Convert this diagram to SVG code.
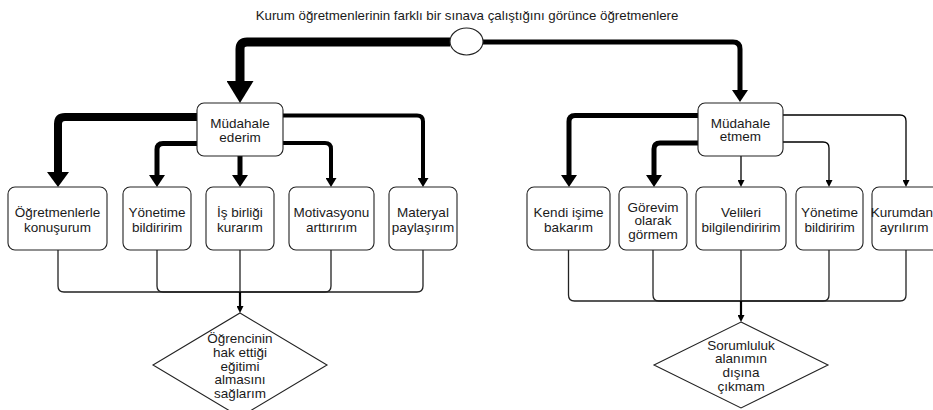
<svg xmlns="http://www.w3.org/2000/svg" width="933" height="410" viewBox="0 0 933 410">
<style>
  text { font-family: "Liberation Sans", Arial, sans-serif; font-size: 13.5px; fill: #1a1a1a; text-anchor: middle; }
  .title { font-size: 13.3px; }
  .box { fill: #ffffff; stroke: #222; stroke-width: 1.1; }
  .c { fill: none; stroke: #000; stroke-linejoin: round; }
  .m { fill: none; stroke: #222; stroke-width: 1.3; }
</style>
<defs>
  <marker id="aBig" markerUnits="userSpaceOnUse" markerWidth="22" markerHeight="27" viewBox="0 0 22 27" refX="0" refY="13.5" orient="auto"><path d="M0,0 L22,13.5 L0,27 z" fill="#000"/></marker>
  <marker id="aMed" markerUnits="userSpaceOnUse" markerWidth="15" markerHeight="22" viewBox="0 0 15 22" refX="0" refY="11" orient="auto"><path d="M0,0 L15,11 L0,22 z" fill="#000"/></marker>
  <marker id="aS" markerUnits="userSpaceOnUse" markerWidth="12" markerHeight="16" viewBox="0 0 12 16" refX="0" refY="8" orient="auto"><path d="M0,0 L12,8 L0,16 z" fill="#000"/></marker>
  <marker id="aXs" markerUnits="userSpaceOnUse" markerWidth="9" markerHeight="11" viewBox="0 0 9 11" refX="0" refY="5.5" orient="auto"><path d="M0,0 L9,5.5 L0,11 z" fill="#000"/></marker>
  <marker id="aT" markerUnits="userSpaceOnUse" markerWidth="7" markerHeight="7" viewBox="0 0 7 7" refX="0" refY="3.5" orient="auto"><path d="M0,0 L7,3.5 L0,7 z" fill="#000"/></marker>
</defs>

<text class="title" x="467" y="20">Kurum öğretmenlerinin farklı bir sınava çalıştığını görünce öğretmenlere</text>

<g id="connectors">
  <!-- from start -->
  <path class="c" stroke-width="9" d="M450,42 H247 Q240,42 240,49 V81" marker-end="url(#aBig)"/>
  <path class="c" stroke-width="5" d="M483,42 H733 Q740,42 740,49 V90" marker-end="url(#aS)"/>
  <!-- left branch -->
  <path class="c" stroke-width="8" d="M197,117 H65 Q58,117 58,124 V172" marker-end="url(#aMed)"/>
  <path class="c" stroke-width="5" d="M197,143.5 H163 Q157,143.5 157,149.5 V175" marker-end="url(#aS)"/>
  <path class="c" stroke-width="5" d="M240,156 V175" marker-end="url(#aS)"/>
  <path class="c" stroke-width="4" d="M283,143 H325 Q331,143 331,149 V178" marker-end="url(#aXs)"/>
  <path class="c" stroke-width="4" d="M283,115.5 H417 Q423,115.5 423,121.5 V178" marker-end="url(#aXs)"/>
  <!-- right branch -->
  <path class="c" stroke-width="5" d="M698,115.5 H575 Q569,115.5 569,121.5 V175" marker-end="url(#aS)"/>
  <path class="c" stroke-width="5" d="M698,143 H660 Q654,143 654,149 V175" marker-end="url(#aS)"/>
  <path class="c" stroke-width="1.3" d="M741,156 V180" marker-end="url(#aT)"/>
  <path class="c" stroke-width="1.3" d="M783,142 H823 Q829,142 829,148 V180" marker-end="url(#aT)"/>
  <path class="c" stroke-width="1.3" d="M783,115 H900 Q906,115 906,121 V180" marker-end="url(#aT)"/>
  <!-- left merge -->
  <path class="m" d="M58,250 V286 Q58,292 64,292 H240"/>
  <path class="m" d="M157,250 V286 Q157,292 163,292 H240"/>
  <path class="m" d="M240,250 V292"/>
  <path class="m" d="M331,250 V286 Q331,292 325,292 H240"/>
  <path class="m" d="M423,250 V286 Q423,292 417,292 H240"/>
  <path class="c" stroke-width="2.2" d="M240,292 V306" marker-end="url(#aT)"/>
  <!-- right merge -->
  <path class="m" d="M568.5,250 V295 Q568.5,301 574.5,301 H741"/>
  <path class="m" d="M653,250 V295 Q653,301 659,301 H741"/>
  <path class="m" d="M741,250 V301"/>
  <path class="m" d="M829,250 V295 Q829,301 823,301 H741"/>
  <path class="m" d="M906,250 V295 Q906,301 900,301 H741"/>
  <path class="c" stroke-width="2.2" d="M741,301 V315" marker-end="url(#aT)"/>
</g>

<g id="start"><ellipse cx="466.5" cy="41.5" rx="16.5" ry="13.5" fill="#fff" stroke="#222" stroke-width="1.1"/></g>

<g id="mudahale-ederim">
  <rect class="box" x="197" y="103" width="86" height="53" rx="7"/>
  <text x="240" y="127.5">Müdahale</text><text x="240" y="141.5">ederim</text>
</g>
<g id="mudahale-etmem">
  <rect class="box" x="698" y="103" width="85" height="53" rx="7"/>
  <text x="740.5" y="127.5">Müdahale</text><text x="740.5" y="141">etmem</text>
</g>

<g id="ogretmenlerle">
  <rect class="box" x="8" y="187" width="99" height="63" rx="7"/>
  <text x="57.5" y="216.5">Öğretmenlerle</text><text x="57.5" y="231.5">konuşurum</text>
</g>
<g id="yonetime-l">
  <rect class="box" x="123" y="187" width="68" height="63" rx="7"/>
  <text x="157" y="216.5">Yönetime</text><text x="157" y="231.5">bildiririm</text>
</g>
<g id="isbirligi">
  <rect class="box" x="206" y="187" width="68" height="63" rx="7"/>
  <text x="240" y="216.5">İş birliği</text><text x="240" y="231.5">kurarım</text>
</g>
<g id="motivasyonu">
  <rect class="box" x="289" y="187" width="85" height="63" rx="7"/>
  <text x="331.5" y="216.5">Motivasyonu</text><text x="331.5" y="231.5">arttırırım</text>
</g>
<g id="materyal">
  <rect class="box" x="389" y="187" width="68" height="63" rx="7"/>
  <text x="423" y="216.5">Materyal</text><text x="423" y="231.5">paylaşırım</text>
</g>

<g id="kendi">
  <rect class="box" x="527" y="187" width="83" height="63" rx="7"/>
  <text x="568.5" y="216.5">Kendi işime</text><text x="568.5" y="231.5">bakarım</text>
</g>
<g id="gorevim">
  <rect class="box" x="619" y="187" width="68" height="63" rx="7"/>
  <text x="653" y="211.5">Görevim</text><text x="653" y="225">olarak</text><text x="653" y="238.5">görmem</text>
</g>
<g id="velileri">
  <rect class="box" x="696" y="187" width="90" height="63" rx="7"/>
  <text x="741" y="216.5">Velileri</text><text x="741" y="231.5">bilgilendiririm</text>
</g>
<g id="yonetime-r">
  <rect class="box" x="796" y="187" width="67" height="63" rx="7"/>
  <text x="829.5" y="216.5">Yönetime</text><text x="829.5" y="231.5">bildiririm</text>
</g>
<g id="kurumdan">
  <rect class="box" x="872" y="187" width="68" height="63" rx="7"/>
  <text x="902" y="216.5">Kurumdan</text><text x="904" y="231.5">ayrılırım</text>
</g>

<g id="sonuc-l">
  <polygon points="240,313 327,365 240,417 153,365" fill="#fff" stroke="#222" stroke-width="1.1"/>
  <text x="240" y="342.5">Öğrencinin</text><text x="240" y="356.5">hak ettiği</text><text x="240" y="370.5">eğitimi</text><text x="240" y="384">almasını</text><text x="240" y="397.5">sağlarım</text>
</g>
<g id="sonuc-r">
  <polygon points="741,322 828,365 741,408 654,365" fill="#fff" stroke="#222" stroke-width="1.1"/>
  <text x="741" y="349.5">Sorumluluk</text><text x="741" y="363">alanımın</text><text x="741" y="376.5">dışına</text><text x="741" y="390.5">çıkmam</text>
</g>
</svg>
